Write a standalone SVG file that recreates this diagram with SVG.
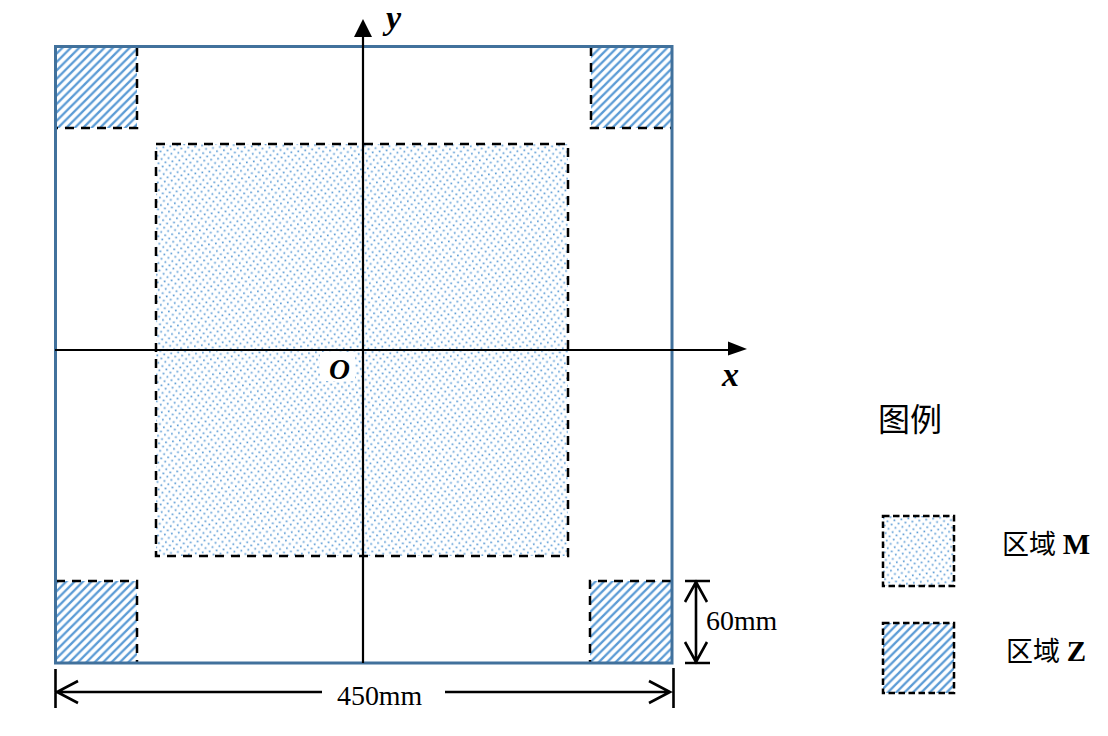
<svg xmlns="http://www.w3.org/2000/svg" width="1108" height="736" viewBox="0 0 1108 736">
<style>
.zone{stroke:#000;stroke-width:2.500;stroke-dasharray:9 7}
.hatch{fill:url(#hatch)}
.dots{fill:url(#dots)}
.axis{stroke:#000;stroke-width:2.200;fill:none}
.dim{stroke:#000;stroke-width:2.600;fill:none}
.t{font-family:"Liberation Serif","Noto Sans CJK SC",serif;fill:#000}
.lab{font-size:27.900px}
.var{font-weight:bold;font-style:italic;font-size:34px}
.cjk{font-family:"Noto Sans CJK SC","Liberation Serif",sans-serif;font-weight:400}
.b{font-family:"Liberation Serif",serif;font-weight:bold}
</style>
<defs>
<pattern id="hatch" width="8.400" height="8.400" patternUnits="userSpaceOnUse" patternTransform="translate(1 0)">
<path d="M-2 2L2 -2M-2 10.400L10.400 -2M6.400 10.400L10.400 6.400" stroke="#5b9bd5" stroke-width="2.300" fill="none"/>
</pattern>
<pattern id="dots" width="7" height="7.600" patternUnits="userSpaceOnUse" patternTransform="rotate(-8)">
<rect x="0.500" y="0.500" width="1.700" height="1.700" fill="#5b9bd5"/>
<rect x="4" y="4.300" width="1.700" height="1.700" fill="#5b9bd5"/>
</pattern>
</defs>
<rect width="1108" height="736" fill="#fff"/>
<g id="zone-m">
<rect class="dots" x="156" y="144" width="412" height="412"/>
<rect class="zone" x="156" y="144" width="412" height="412" fill="none"/>
</g>
<rect id="origin-bg" x="320" y="352" width="35" height="29" fill="#fff"/>
<g id="zone-z-tl"><rect class="hatch" x="56" y="47" width="81" height="81"/><path class="zone" fill="none" d="M137 47V128H56"/></g>
<g id="zone-z-tr"><rect class="hatch" x="591" y="47" width="81" height="81"/><path class="zone" fill="none" d="M591 47V128H672"/></g>
<g id="zone-z-bl"><rect class="hatch" x="56" y="581" width="81" height="81"/><path class="zone" fill="none" d="M56 581H137V662"/></g>
<g id="zone-z-br"><rect class="hatch" x="590" y="581" width="81" height="81"/><path class="zone" fill="none" d="M671 581H590V662"/></g>
<g id="frame"><rect x="55.500" y="46.500" width="616.500" height="616.500" fill="none" stroke="#41719c" stroke-width="3"/></g>
<g id="connectors">
<path class="axis" d="M55 350H730"/>
<path d="M728 341.500L747 349L728 355.500Z" fill="#000"/>
<path class="axis" d="M363 663V36"/>
<path d="M354 37L363 19L372 37Z" fill="#000"/>
<path class="dim" d="M55.500 669V708M673.500 668V708M57 692H322M445 692H670M78 681L57 692L78 703M649 681L670 692L649 703"/>
<path class="dim" d="M685 581H710M685 663H710M696 581V663M685 602L696 582L707 602M685 642L696 662L707 642"/>
</g>
<g id="labels">
<text class="t var" x="386" y="29">y</text>
<text class="t var" x="722" y="386">x</text>
<text class="t var" x="329" y="379" style="font-size:29px">O</text>
<text class="t lab" x="706" y="630">60mm</text>
<text class="t lab" x="337" y="705">450mm</text>
</g>
<g id="legend">
<text class="t cjk" x="878" y="431" font-size="32">图例</text>
<g id="legend-m">
<rect class="dots" x="883" y="516" width="71" height="70"/>
<rect class="zone" x="883" y="516" width="71" height="70" fill="none" style="stroke-dasharray:6.500 3.500"/>
<text class="t" x="1002" y="554" font-size="27"><tspan class="cjk">区域</tspan> <tspan class="b" font-size="29">M</tspan></text>
</g>
<g id="legend-z">
<rect class="hatch" x="883" y="623" width="71" height="70"/>
<rect class="zone" x="883" y="623" width="71" height="70" fill="none" style="stroke-dasharray:6.500 3.500"/>
<text class="t" x="1006" y="661" font-size="27"><tspan class="cjk">区域</tspan> <tspan class="b" font-size="29">Z</tspan></text>
</g>
</g>
</svg>
